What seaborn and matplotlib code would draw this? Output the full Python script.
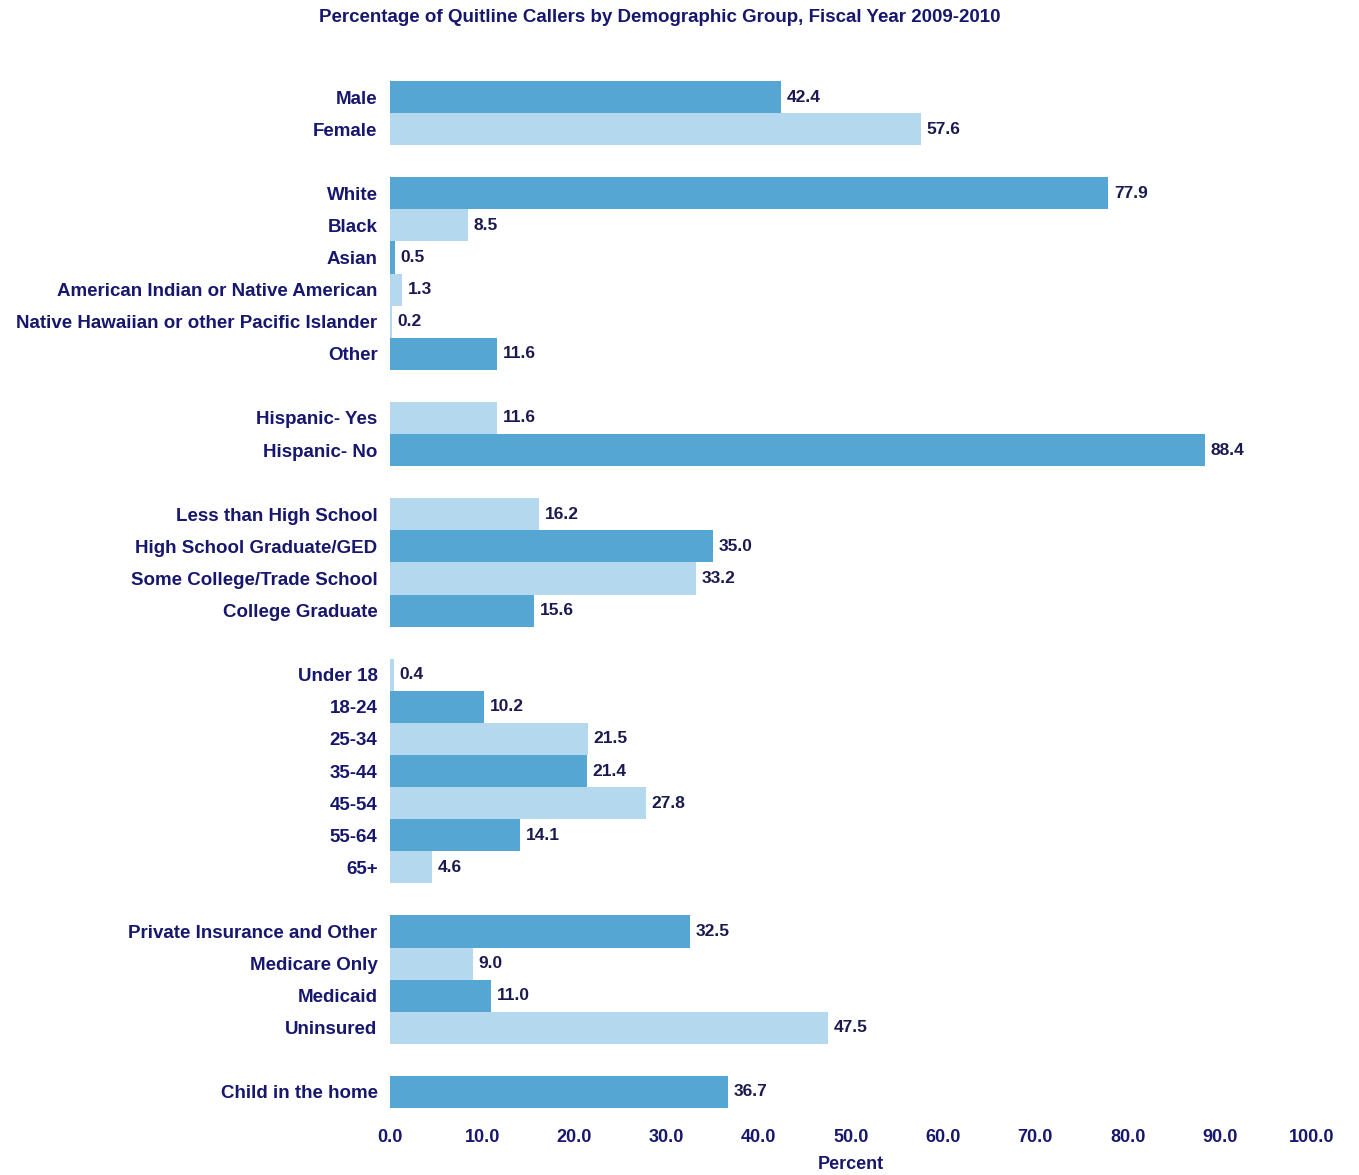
import matplotlib
matplotlib.use("Agg")
import matplotlib.pyplot as plt
import seaborn as sns
import pandas as pd

# Demographic categories, grouped; a None marks the blank row between groups
categories = [
    "Male", "Female", None,
    "White", "Black", "Asian", "American Indian or Native American",
    "Native Hawaiian or other Pacific Islander", "Other", None,
    "Hispanic- Yes", "Hispanic- No", None,
    "Less than High School", "High School Graduate/GED",
    "Some College/Trade School", "College Graduate", None,
    "Under 18", "18-24", "25-34", "35-44", "45-54", "55-64", "65+", None,
    "Private Insurance and Other", "Medicare Only", "Medicaid", "Uninsured", None,
    "Child in the home",
]
percent = [
    42.4, 57.6, None,
    77.9, 8.5, 0.5, 1.3, 0.2, 11.6, None,
    11.6, 88.4, None,
    16.2, 35.0, 33.2, 15.6, None,
    0.4, 10.2, 21.5, 21.4, 27.8, 14.1, 4.6, None,
    32.5, 9.0, 11.0, 47.5, None,
    36.7,
]
shade = [
    "dark", "light", None,
    "dark", "light", "dark", "light", "light", "dark", None,
    "light", "dark", None,
    "light", "dark", "light", "dark", None,
    "light", "dark", "light", "dark", "light", "dark", "light", None,
    "dark", "light", "dark", "light", None,
    "dark",
]
x_ticks = [0, 10, 20, 30, 40, 50, 60, 70, 80, 90, 100]

NAVY = "#17176e"
palette = {"dark": "#56a6d3", "light": "#b4d8ed"}

rows = [(i, c, v, s) for i, (c, v, s) in enumerate(zip(categories, percent, shade)) if c is not None]
df = pd.DataFrame(rows, columns=["pos", "category", "percent", "shade"])

sns.set_theme(style="white")
plt.rcParams["font.family"] = ["Liberation Sans", "DejaVu Sans"]

fig = plt.figure(figsize=(13.59, 11.75), dpi=100)
ax = fig.add_axes([390 / 1359, 1 - 1108 / 1175, (1312 - 390) / 1359, (1108 - 81) / 1175])

sns.barplot(data=df, x="percent", y="pos", hue="shade", palette=palette,
            orient="h", native_scale=True, width=1.0, dodge=False,
            legend=False, linewidth=0, saturation=1, ax=ax)

ax.set_xlim(0, 100)
ax.set_ylim(len(categories) - 0.5, -0.5)
ax.set_xticks(x_ticks)
ax.set_xticklabels([f"{t:.1f}" for t in x_ticks], fontsize=13,
                   fontweight="bold", color=NAVY)
ax.set_yticks(df["pos"])
ax.set_yticklabels(df["category"], fontsize=13.5, fontweight="bold", color=NAVY)
ax.tick_params(axis="both", length=0)
ax.tick_params(axis="x", pad=15)
ax.tick_params(axis="y", pad=9)
for s in ax.spines.values():
    s.set_visible(False)
ax.set_ylabel("")
ax.set_xlabel("Percent", fontsize=13, fontweight="bold", color=NAVY, labelpad=7)

for _, r in df.iterrows():
    ax.annotate(f"{r['percent']:.1f}", xy=(r["percent"], r["pos"]),
                xytext=(4, 0), textcoords="offset points",
                va="center", ha="left", fontsize=12.5, fontweight="bold",
                color="#1a1a50")

fig.text(660 / 1359, 1 - 17 / 1175,
         "Percentage of Quitline Callers by Demographic Group, Fiscal Year 2009-2010",
         ha="center", va="center", fontsize=13.5, fontweight="bold", color=NAVY)

fig.savefig("out.png", dpi=100, facecolor="white")
